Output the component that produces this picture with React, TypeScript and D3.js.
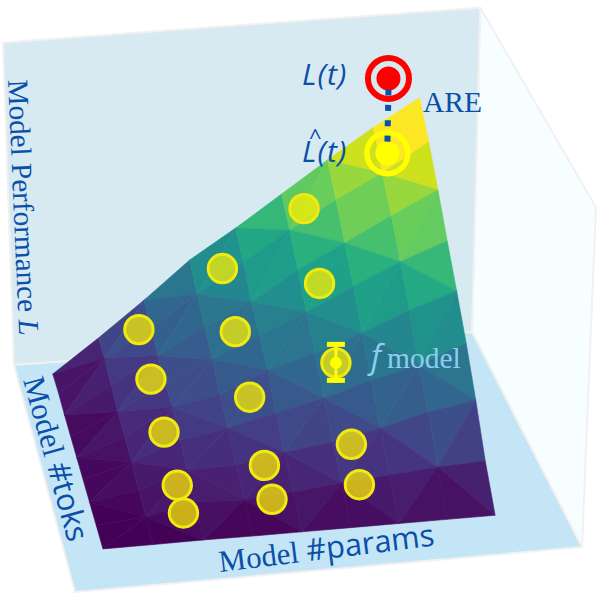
import * as d3 from 'd3';
import React, { useEffect, useRef } from 'react';

// grid steps of the fitted surface (toks step 0 is the far edge)
const paramSteps = [0, 1, 2, 3, 4, 5, 6, 7, 8];
const tokSteps = [0, 1, 2, 3, 4, 5, 6, 7, 8];

const perfTok0 = [0, 0.105, 0.216, 0.334, 0.425, 0.523, 0.621, 0.715, 0.798];
const perfTok1 = [0.004, 0.105, 0.19, 0.287, 0.378, 0.469, 0.553, 0.628, 0.716];
const perfTok2 = [0, 0.084, 0.165, 0.246, 0.313, 0.404, 0.478, 0.553, 0.624];
const perfTok3 = [0, 0.065, 0.144, 0.206, 0.273, 0.334, 0.405, 0.47, 0.525];
const perfTok4 = [0, 0.053, 0.135, 0.162, 0.228, 0.27, 0.321, 0.382, 0.431];
const perfTok5 = [0, 0.043, 0.099, 0.125, 0.16, 0.195, 0.239, 0.275, 0.332];
const perfTok6 = [0, 0.025, 0.075, 0.078, 0.106, 0.125, 0.157, 0.195, 0.221];
const perfTok7 = [0, 0.013, 0.046, 0.04, 0.052, 0.067, 0.08, 0.092, 0.099];
const perfTok8 = [0, 0, 0.001, 0, 0, 0, 0, 0, 0];
const perf = [perfTok0, perfTok1, perfTok2, perfTok3, perfTok4, perfTok5, perfTok6, perfTok7, perfTok8];

// sampled models, in grid steps
const modelParams = [5.36, 3.58, 5.36, 1.77, 3.56, 1.76, 3.55, 1.74, 5.36, 3.55, 1.74, 5.35, 3.55, 1.73, 5.37];
const modelToks = [0.72, 0.8, 2.55, 0.8, 2.57, 2.6, 4.42, 4.56, 6.17, 6.2, 6.33, 7.1, 7.1, 7.2, 4.38];

// the marked model f
const fParam = 5.37;
const fTok = 4.38;

// target model: true L(t) above the predicted one
const targetParam = 7.17;
const targetTok = 0.68;
const targetPerf = 0.9;

const zMax = 0.71;

const pScale = d3.scaleLinear().domain([0, 8]).range([0.075, 0.86]);
const tScale = d3.scaleLinear().domain([0, 8]).range([0.943, 0.16]);
const colorScale = d3.scaleSequential(d3.interpolateViridis).domain([0, zMax]).clamp(true);

// box coords (0..1) to screen, a plain homography
function project(p: number, t: number, z: number): [number, number] {
  const w = 1 + 0.038 * p + 0.1161 * t - 0.0451 * z;
  return [
    (75 + 529.1 * p - 59.4 * t - 12.39 * z) / w,
    (592 - 24.2 * p - 184.6 * t - 362 * z) / w,
  ];
}

function perfAt(col: number, row: number) {
  const i = Math.min(Math.floor(col), 7);
  const j = Math.min(Math.floor(row), 7);
  const a = col - i;
  const b = row - j;
  return (
    perf[j][i] * (1 - a) * (1 - b) +
    perf[j][i + 1] * a * (1 - b) +
    perf[j + 1][i] * (1 - a) * b +
    perf[j + 1][i + 1] * a * b
  );
}

const surfacePoint = (col: number, row: number) => project(pScale(col), tScale(row), perfAt(col, row));

const BLUE = '#0a4fa8';
const LIGHT = '#8ccdf0';

export default function App() {
  const ref = useRef<SVGSVGElement>(null);

  useEffect(() => {
    const svg = d3.select(ref.current);
    svg.selectAll('*').remove();
    const line = d3.line();
    const poly = (pts: [number, number][]) => line(pts) + 'Z';

    // walls and floor
    const walls: [string, [number, number][]][] = [
      ['#f6feff', [project(1, 1, 1.035), project(1, 0, 1), project(1, 0, 0), project(1, 1, 0)]],
      ['#d7eaf2', [project(0, 1, 1), project(1, 1, 1.035), project(1, 1, 0), project(0, 1, 0)]],
      ['#c3e5f5', [project(0, 1, 0), project(1, 1, 0), project(1, 0, 0), project(0, 0, 0)]],
    ];
    svg.append('g').selectAll('path').data(walls).enter().append('path')
      .attr('d', d => poly(d[1]))
      .attr('fill', d => d[0])
      .attr('stroke', '#f1f1f1')
      .attr('stroke-width', 2)
      .attr('stroke-linejoin', 'round');

    // surface, every cell cut in two with alternating diagonals
    const tris: [number, number][][] = [];
    paramSteps.slice(0, -1).forEach(i => {
      tokSteps.slice(0, -1).forEach(j => {
        if ((i + j) % 2 === 0) {
          tris.push([[i, j], [i + 1, j], [i + 1, j + 1]]);
          tris.push([[i, j], [i + 1, j + 1], [i, j + 1]]);
        } else {
          tris.push([[i, j], [i + 1, j], [i, j + 1]]);
          tris.push([[i + 1, j], [i + 1, j + 1], [i, j + 1]]);
        }
      });
    });
    svg.append('g').selectAll('path').data(tris).enter().append('path')
      .attr('d', d => poly(d.map(n => surfacePoint(n[0], n[1]))))
      .attr('fill', d => colorScale(d3.mean(d, n => perf[n[1]][n[0]])!))
      .attr('stroke', d => colorScale(d3.mean(d, n => perf[n[1]][n[0]])!))
      .attr('stroke-width', 0.6);

    // sampled models
    const models = modelParams.map((m, k) => surfacePoint(m, modelToks[k]));
    svg.append('g').selectAll('circle').data(models).enter().append('circle')
      .attr('cx', d => d[0])
      .attr('cy', d => d[1])
      .attr('r', 14.2)
      .attr('fill', 'rgba(255,240,0,0.72)')
      .attr('stroke', '#f0ea10')
      .attr('stroke-width', 3);

    // f model marker
    const fp = surfacePoint(fParam, fTok);
    const fm = svg.append('g').attr('fill', '#ffff00');
    fm.append('circle').attr('cx', fp[0]).attr('cy', fp[1]).attr('r', 6);
    fm.append('rect').attr('x', fp[0] - 1.5).attr('y', fp[1] - 20).attr('width', 3).attr('height', 40);
    fm.append('rect').attr('x', fp[0] - 9).attr('y', fp[1] - 21).attr('width', 18).attr('height', 5);
    fm.append('rect').attr('x', fp[0] - 9).attr('y', fp[1] + 15).attr('width', 18).attr('height', 5);

    // predicted and true performance
    const pred = surfacePoint(targetParam, targetTok);
    const truth = project(pScale(targetParam), tScale(targetTok), targetPerf);
    svg.append('circle').attr('cx', pred[0]).attr('cy', pred[1]).attr('r', 12).attr('fill', '#ffff00');
    svg.append('circle').attr('cx', pred[0]).attr('cy', pred[1]).attr('r', 20.5)
      .attr('fill', 'none').attr('stroke', '#ffff00').attr('stroke-width', 5.5);
    svg.append('circle').attr('cx', truth[0]).attr('cy', truth[1]).attr('r', 12).attr('fill', '#ff0000');
    svg.append('circle').attr('cx', truth[0]).attr('cy', truth[1]).attr('r', 20.5)
      .attr('fill', 'none').attr('stroke', '#ff0000').attr('stroke-width', 6);
    svg.append('line')
      .attr('x1', truth[0]).attr('y1', truth[1] + 11)
      .attr('x2', pred[0]).attr('y2', pred[1] - 10)
      .attr('stroke', BLUE).attr('stroke-width', 6).attr('stroke-dasharray', '6 9.4');

    // labels
    const label = (x: number, y: number, txt: string, size: number, fill: string, family: string, style = 'normal', rot = 0) =>
      svg.append('text')
        .attr('transform', `translate(${x},${y}) rotate(${rot})`)
        .attr('font-size', size)
        .attr('font-family', family)
        .attr('font-style', style)
        .attr('fill', fill)
        .text(txt);
    const SERIF = '"Liberation Serif", serif';
    const SANS = '"Open Sans", sans-serif';

    label(302, 85, 'L(t)', 30, BLUE, SANS, 'italic').attr('letter-spacing', 1);
    label(302, 162, 'L(t)', 30, BLUE, SANS, 'italic').attr('letter-spacing', 1);
    label(309, 145, '^', 22, BLUE, SANS);
    label(423, 112, 'ARE', 29.5, BLUE, SERIF);
    label(371, 368, 'f', 32, LIGHT, SANS, 'italic');
    label(387, 368, 'model', 29.5, LIGHT, SERIF);

    const perfLabel = label(8, 80, 'Model Performance ', 29.2, BLUE, SERIF, 'normal', 87.5);
    perfLabel.append('tspan').attr('font-style', 'italic').text('L');
    const toksLabel = label(23, 380, 'Model ', 31, BLUE, SERIF, 'normal', 74.5);
    toksLabel.append('tspan').attr('font-family', SANS).text('#toks');
    const paramsLabel = label(220, 572, 'Model ', 30.8, BLUE, SERIF, 'normal', -7);
    paramsLabel.append('tspan').attr('font-family', SANS).text('#params');
  }, []);

  return <svg ref={ref} width={598} height={595} style={{ position: 'absolute', left: 0, top: 0 }} />;
}
